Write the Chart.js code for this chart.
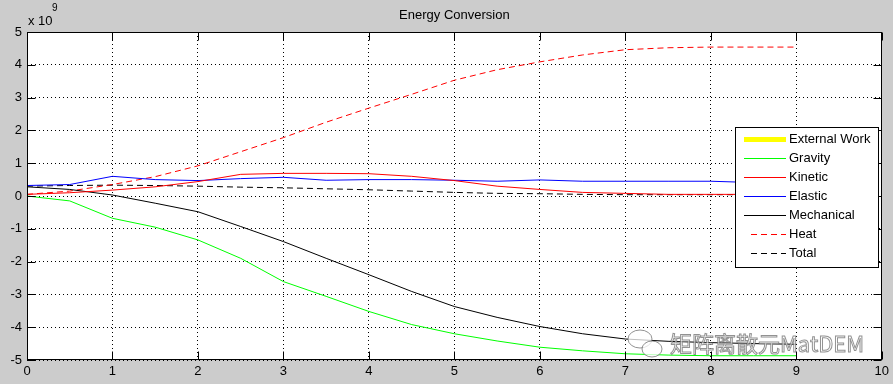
<!DOCTYPE html>
<html>
<head>
<meta charset="utf-8">
<script src="https://cdn.jsdelivr.net/npm/chart.js@4"></script>
<style>
body { margin: 0; background: #cccccc; }
canvas { display: block; }
</style>
</head>
<body>
<canvas id="energyChart" width="893" height="384"></canvas>
<script>
// values in units of 1e9
const timeSteps = [0, 0.5, 1, 1.5, 2, 2.5, 3, 3.5, 4, 4.5, 5, 5.5, 6, 6.5, 7, 7.5, 8, 8.5, 9];
const externalWork = [];
const gravity    = [0, -0.15, -0.68, -0.95, -1.34, -1.9, -2.61, -3.06, -3.52, -3.92, -4.2, -4.42, -4.61, -4.72, -4.81, -4.85, -4.87, -4.87, -4.87];
const kinetic    = [0.05, 0.1, 0.18, 0.28, 0.44, 0.66, 0.69, 0.69, 0.68, 0.6, 0.47, 0.3, 0.2, 0.11, 0.08, 0.05, 0.05, 0.05, 0.05];
const elastic    = [0.32, 0.35, 0.6, 0.5, 0.47, 0.53, 0.57, 0.48, 0.5, 0.5, 0.48, 0.45, 0.49, 0.45, 0.45, 0.45, 0.45, 0.41, 0.38];
const mechanical = [0.28, 0.2, 0.03, -0.22, -0.48, -0.93, -1.39, -1.9, -2.4, -2.91, -3.37, -3.7, -3.98, -4.2, -4.36, -4.43, -4.47, -4.5, -4.52];
const heat       = [0.05, 0.15, 0.35, 0.59, 0.92, 1.35, 1.78, 2.25, 2.68, 3.1, 3.53, 3.85, 4.09, 4.3, 4.46, 4.52, 4.54, 4.54, 4.54];
const total      = [0.3, 0.32, 0.33, 0.32, 0.3, 0.27, 0.25, 0.22, 0.19, 0.15, 0.11, 0.08, 0.07, 0.05, 0.04, 0.04, 0.04, 0.04, 0.04];
const xTicks = [0, 1, 2, 3, 4, 5, 6, 7, 8, 9, 10];
const yTicks = [-5, -4, -3, -2, -1, 0, 1, 2, 3, 4, 5];

const toPoints = vals => vals.map((v, i) => ({ x: timeSteps[i], y: v }));

const series = (label, vals, color, width, dash) => ({
    label: label,
    data: toPoints(vals),
    borderColor: color,
    borderWidth: width,
    borderDash: dash,
    pointRadius: 0,
    tension: 0,
    fill: false
});

const FONT = '"Liberation Sans", Arial, sans-serif';

const matlabFrame = {
    id: 'matlabFrame',
    beforeDraw(chart) {
        const { ctx, chartArea: a } = chart;
        ctx.save();
        ctx.fillStyle = '#cccccc';
        ctx.fillRect(0, 0, chart.width, chart.height);
        ctx.fillStyle = '#ffffff';
        ctx.fillRect(a.left, a.top, a.right - a.left, a.bottom - a.top);
        ctx.restore();
    },
    afterDraw(chart) {
        const { ctx, chartArea: a, scales } = chart;
        const L = Math.round(a.left) + 0.5, R = Math.round(a.right) - 0.5;
        const T = Math.round(a.top) + 0.5, B = Math.round(a.bottom) - 0.5;
        ctx.save();

        // axis box + inward ticks
        ctx.strokeStyle = '#000';
        ctx.lineWidth = 1;
        ctx.setLineDash([]);
        ctx.strokeRect(L, T, R - L, B - T);
        ctx.beginPath();
        xTicks.forEach(v => {
            const px = Math.round(scales.x.getPixelForValue(v)) + 0.5;
            ctx.moveTo(px, B); ctx.lineTo(px, B - 8);
            ctx.moveTo(px, T); ctx.lineTo(px, T + 8);
        });
        yTicks.forEach(v => {
            const py = Math.round(scales.y.getPixelForValue(v)) + 0.5;
            ctx.moveTo(L, py); ctx.lineTo(L + 8, py);
            ctx.moveTo(R, py); ctx.lineTo(R - 8, py);
        });
        ctx.stroke();

        // title and exponent
        ctx.fillStyle = '#000';
        ctx.font = '13px ' + FONT;
        ctx.textAlign = 'center';
        ctx.textBaseline = 'middle';
        ctx.fillText('Energy Conversion', (a.left + a.right) / 2, 15);
        ctx.textAlign = 'left';
        ctx.fillText('x 10', 28, 21);
        ctx.font = '10px ' + FONT;
        ctx.fillText('9', 52, 8);

        // legend box
        const lx = 735, ly = 127, lw = 143, lh = 140;
        ctx.fillStyle = '#ffffff';
        ctx.fillRect(lx, ly, lw, lh);
        ctx.strokeStyle = '#000';
        ctx.strokeRect(lx + 0.5, ly + 0.5, lw, lh);
        ctx.font = '13px ' + FONT;
        ctx.textBaseline = 'middle';
        chart.data.datasets.forEach((ds, i) => {
            const y = Math.round(139 + i * 19) + 0.5;
            ctx.strokeStyle = ds.borderColor;
            ctx.lineWidth = ds.label === 'External Work' ? 5 : ds.borderWidth;
            ctx.setLineDash(ds.borderDash || []);
            ctx.beginPath();
            if (ds.borderDash && ds.borderDash.length) {
                ctx.moveTo(751, y); ctx.lineTo(786, y);
            } else {
                ctx.moveTo(744, y); ctx.lineTo(786, y);
            }
            ctx.stroke();
            ctx.setLineDash([]);
            ctx.fillStyle = '#000';
            ctx.fillText(ds.label, 789, y);
        });

        // watermark
        ctx.lineWidth = 1;
        ctx.strokeStyle = 'rgba(110,110,110,0.75)';
        ctx.fillStyle = 'rgba(255,255,255,0.75)';
        ctx.beginPath();
        ctx.ellipse(640, 339, 12, 9, 0, 0, Math.PI * 2);
        ctx.fill(); ctx.stroke();
        ctx.beginPath();
        ctx.ellipse(652, 349, 10, 8, 0, 0, Math.PI * 2);
        ctx.fill(); ctx.stroke();
        ctx.font = '22px "Noto Sans CJK SC", ' + FONT;
        ctx.textAlign = 'left';
        ctx.textBaseline = 'middle';
        ctx.fillText('矩阵离散元MatDEM', 670, 344);
        ctx.strokeText('矩阵离散元MatDEM', 670, 344);
        ctx.restore();
    }
};

const ctx = document.getElementById('energyChart').getContext('2d');
new Chart(ctx, {
    type: 'line',
    data: {
        datasets: [
            series('External Work', externalWork, '#ffff00', 1, []),
            series('Gravity', gravity, '#00ff00', 1, []),
            series('Kinetic', kinetic, '#ff0000', 1, []),
            series('Elastic', elastic, '#0000ff', 1, []),
            series('Mechanical', mechanical, '#000000', 1, []),
            series('Heat', heat, '#ff0000', 1, [6, 4]),
            series('Total', total, '#000000', 1, [6, 4])
        ]
    },
    options: {
        responsive: false,
        animation: false,
        layout: { padding: { left: 0, right: 10, top: 32, bottom: 0 } },
        plugins: {
            legend: { display: false },
            title: { display: false },
            tooltip: { enabled: false }
        },
        scales: {
            x: {
                type: 'linear',
                min: 0,
                max: 10,
                afterFit: scale => { scale.height = 24; },
                afterBuildTicks: scale => { scale.ticks = xTicks.map(v => ({ value: v })); },
                ticks: {
                    color: '#000',
                    padding: 4,
                    maxRotation: 0,
                    font: { family: FONT, size: 13 }
                },
                grid: { color: '#000', lineWidth: 1, drawTicks: false },
                border: { display: false, dash: [1, 3] }
            },
            y: {
                min: -5,
                max: 5,
                afterFit: scale => { scale.width = 27; },
                afterBuildTicks: scale => { scale.ticks = yTicks.map(v => ({ value: v })); },
                ticks: {
                    color: '#000',
                    padding: 5,
                    font: { family: FONT, size: 13 }
                },
                grid: { color: '#000', lineWidth: 1, drawTicks: false },
                border: { display: false, dash: [1, 3] }
            }
        }
    },
    plugins: [matlabFrame]
});
</script>
</body>
</html>
